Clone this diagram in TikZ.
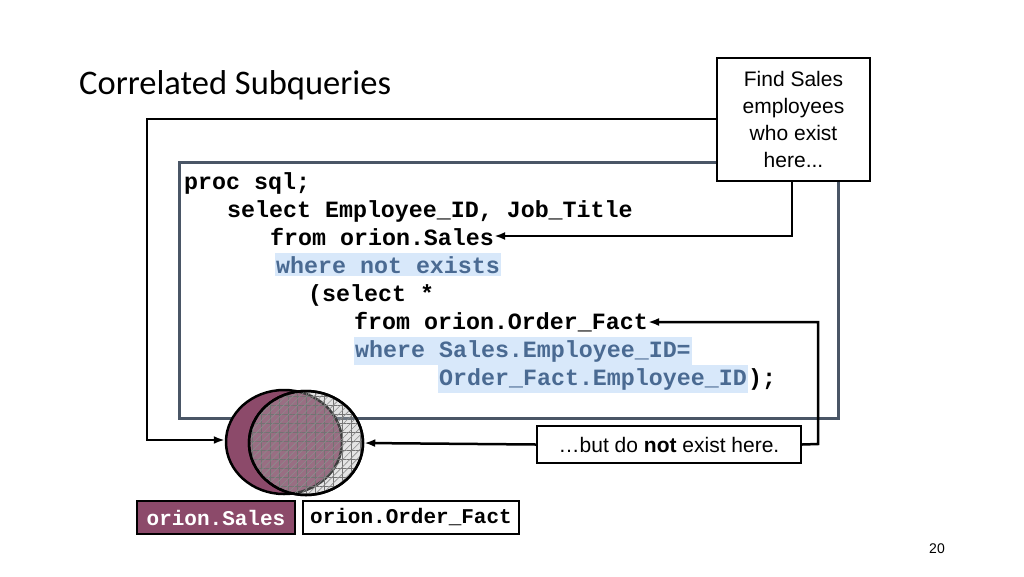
\documentclass[tikz,border=0pt]{standalone}
\usepackage{fontspec}
\setmainfont{Liberation Sans}
\newfontfamily\titlefont{Carlito}
\setmonofont{Liberation Mono}
\usetikzlibrary{positioning,shapes.geometric,patterns.meta,arrows.meta}
\definecolor{salescol}{HTML}{8C4A6A}
\definecolor{framecol}{HTML}{4A5666}
\definecolor{hlbg}{HTML}{D8E8FA}
\definecolor{hltext}{HTML}{4A6A92}
\tikzset{
  code/.style={anchor=base west, inner sep=0pt, font=\fontsize{23.3}{23}\selectfont\ttfamily\bfseries},
  hl/.style={code, fill=hlbg, text=hltext, inner xsep=1pt, inner ysep=3pt},
  note/.style={draw, line width=2pt, fill=white, align=center, font=\fontsize{21}{27}\selectfont},
  tag/.style={draw, line width=2pt, inner sep=4pt, minimum height=33pt, font=\fontsize{21}{21}\selectfont\ttfamily\bfseries},
  link/.style={line width=2.5pt, -{Latex[length=11pt,width=8pt]}},
}
\begin{document}
\begin{tikzpicture}[x=1pt, y=-1pt]
\useasboundingbox (0,0) rectangle (1024,576);

\node[anchor=west, inner sep=0pt, font=\fontsize{34.5}{34}\selectfont\titlefont] (title) at (79,85) {Correlated Subqueries};

% the query
\draw[framecol, line width=3pt] (179,162) rectangle (838,418);
\node[code] (l1) at (184,189) {proc sql;};
\node[code] (l2) at (227,217) {select Employee\_ID, Job\_Title};
\node[code] (l3) at (270,245) {from orion.Sales};
\node[hl] (l4) at (275,273) {where not exists};
\node[code] (l5) at (308,301) {(select *};
\node[code] (l6) at (354,329) {from orion.Order\_Fact};
\node[hl] (l7) at (354,357) {where Sales.Employee\_ID=};
\node[hl] (l8) at (438,385) {Order\_Fact.Employee\_ID};
\node[code, right=0pt of l8.base east, anchor=base west] (l8b) {);};

% venn
\node[ellipse, draw, line width=2.5pt, fill=salescol, minimum width=116pt, minimum height=104pt] (sales) at (284,442) {};
\node[ellipse, draw, line width=2.5pt, fill=gray!60, fill opacity=0.35, minimum width=114pt, minimum height=104pt] (order) at (306,443) {};
\fill[pattern={Lines[distance=9pt, angle=0, line width=0.6pt]}, pattern color=black!55] (306,443) ellipse (56pt and 51pt);
\fill[pattern={Lines[distance=9pt, angle=90, line width=0.6pt]}, pattern color=black!55] (306,443) ellipse (56pt and 51pt);
\fill[pattern={Lines[distance=5pt, angle=45, line width=0.6pt]}, pattern color=black!45] (306,443) ellipse (56pt and 51pt);
\draw[line width=2.5pt] (306,443) ellipse (57pt and 52pt);

\node[tag, fill=salescol, text=white, anchor=north west, minimum width=158pt] (salestag) at (136,500) {orion.Sales};
\node[tag, fill=white, anchor=north west, minimum width=216pt] (ordertag) at (302,500) {orion.Order\_Fact};

% notes
\node[note, anchor=north west, minimum width=153pt, minimum height=123pt] (find) at (716,57) {Find Sales\\employees\\who exist\\here...};
\node[note, anchor=north west, minimum width=264pt, minimum height=37pt] (notex) at (536,425) {\ldots but do \textbf{not} exist here.};

% connectors
\coordinate (c1) at (147,119);
\coordinate (c2) at (147,440);
\draw[link] (find.west |- c1) -- (c1) -- (c2) -- (sales.west |- c2);
\draw[link] (792,180) -- (792,236) -- (l3.east |- 0,236);
\draw[link] (notex.east) -- (818,444) -- (818,322) -- (l6.east |- 0,322);
\draw[link] (notex.west) -- (order.east);

\node[font=\fontsize{14}{14}\selectfont] (page) at (937,549) {20};
\end{tikzpicture}
\end{document}
